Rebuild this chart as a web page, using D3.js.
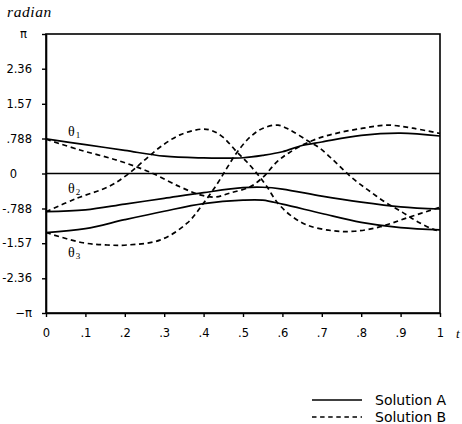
<!DOCTYPE html>
<html>
<head>
<meta charset="utf-8">
<script src="https://cdn.jsdelivr.net/npm/d3@7"></script>
<style>
  html, body { margin: 0; padding: 0; background: #fff; }
  svg { display: block; }
</style>
</head>
<body>
<script>
// ---- data ----
const xTicks = [0, 0.1, 0.2, 0.3, 0.4, 0.5, 0.6, 0.7, 0.8, 0.9, 1];
const xTickLabels = ["0", ".1", ".2", ".3", ".4", ".5", ".6", ".7", ".8", ".9", "1"];
const yTicks = [-Math.PI, -2.36, -1.57, -0.788, 0, 0.788, 1.57, 2.36, Math.PI];
const yTickLabels = ["\u2212\u03c0", "-2.36", "-1.57", "-.788", "0", ".788", "1.57", "2.36", "\u03c0"];

// Solution A (solid) : [t, radian]
const solA_theta1 = [[0,0.78],[0.1,0.65],[0.2,0.52],[0.3,0.39],[0.4,0.35],[0.45,0.345],[0.5,0.355],
  [0.55,0.41],[0.6,0.49],[0.65,0.63],[0.7,0.71],[0.8,0.86],[0.9,0.91],[1,0.845]];
const solA_theta2 = [[0,-0.86],[0.1,-0.82],[0.2,-0.69],[0.3,-0.56],[0.4,-0.43],[0.5,-0.32],[0.55,-0.31],
  [0.6,-0.35],[0.7,-0.51],[0.8,-0.645],[0.9,-0.75],[1,-0.80]];
const solA_theta3 = [[0,-1.33],[0.1,-1.24],[0.2,-1.04],[0.3,-0.85],[0.4,-0.68],[0.5,-0.60],[0.55,-0.60],
  [0.6,-0.69],[0.7,-0.90],[0.8,-1.10],[0.9,-1.22],[1,-1.27]];

// Solution B (dashed) : [t, radian]
const solB_theta1 = [[0,0.77],[0.086,0.53],[0.18,0.30],[0.264,0.03],[0.34,-0.30],[0.391,-0.48],[0.429,-0.53],
  [0.467,-0.44],[0.518,-0.30],[0.551,-0.08],[0.586,0.26],[0.619,0.48],[0.678,0.75],[0.739,0.91],
  [0.805,1.02],[0.865,1.09],[0.931,1.02],[1,0.90]];
const solB_theta2 = [[0,-0.86],[0.075,-0.57],[0.16,-0.29],[0.206,-0.03],[0.25,0.30],[0.289,0.59],[0.34,0.87],
  [0.396,1.0],[0.42,0.97],[0.449,0.82],[0.485,0.48],[0.51,0.26],[0.538,-0.03],[0.561,-0.30],[0.586,-0.64],
  [0.619,-0.93],[0.662,-1.16],[0.728,-1.29],[0.784,-1.30],[0.848,-1.20],[0.916,-1.0],[1,-0.76]];
const solB_theta3 = [[0,-1.33],[0.094,-1.56],[0.155,-1.61],[0.206,-1.61],[0.289,-1.50],[0.358,-1.12],[0.398,-0.69],
  [0.434,-0.24],[0.459,0.12],[0.485,0.48],[0.518,0.82],[0.551,1.02],[0.589,1.09],[0.619,0.98],[0.662,0.75],
  [0.695,0.57],[0.734,0.26],[0.777,-0.10],[0.817,-0.37],[0.860,-0.64],[0.904,-0.87],[0.944,-1.09],
  [0.987,-1.27],[1,-1.29]];

const curveLabels = [
  {main: "\u03b8", sub: "1", t: 0.056, v: 0.84},
  {main: "\u03b8", sub: "2", t: 0.056, v: -0.44},
  {main: "\u03b8", sub: "3", t: 0.056, v: -1.88}
];
const legendNames = ["Solution A", "Solution B"];

// ---- drawing ----
const W = 462, H = 424;
const svg = d3.select("body").append("svg").attr("width", W).attr("height", H);

const x = d3.scaleLinear().domain([0, 1]).range([46, 440]);
const y = d3.scaleLinear().domain([-Math.PI, Math.PI]).range([313, 34]);

const sansFont = "'DejaVu Sans', sans-serif";
const serifFont = "'Liberation Serif', 'DejaVu Serif', serif";

// frame
svg.append("rect")
  .attr("x", x(0)).attr("y", y(Math.PI))
  .attr("width", x(1) - x(0)).attr("height", y(-Math.PI) - y(Math.PI))
  .attr("fill", "none").attr("stroke", "#000").attr("stroke-width", 1.6);

// zero line
svg.append("line")
  .attr("x1", x(0)).attr("x2", x(1)).attr("y1", y(0)).attr("y2", y(0))
  .attr("stroke", "#000").attr("stroke-width", 1.4);

// y axis
const labelShift = {"0": -15, "\u03c0": -5};
const yAxis = svg.append("g").attr("transform", `translate(${x(0)},0)`)
  .call(d3.axisLeft(y).tickValues(yTicks).tickFormat((d, i) => yTickLabels[i])
    .tickSize(4).tickSizeOuter(0).tickPadding(10));
yAxis.select(".domain").attr("stroke-width", 1.6);
yAxis.selectAll(".tick line").attr("stroke-width", 1.4);
yAxis.selectAll(".tick text")
  .attr("font-family", sansFont).attr("font-size", 11.5).attr("fill", "#000")
  .attr("dx", (d, i) => labelShift[yTickLabels[i]] || 0);

// x axis
const xAxis = svg.append("g").attr("transform", `translate(0,${y(-Math.PI)})`)
  .call(d3.axisBottom(x).tickValues(xTicks).tickFormat((d, i) => xTickLabels[i])
    .tickSize(4).tickSizeOuter(0).tickPadding(12));
xAxis.select(".domain").attr("stroke-width", 1.6);
xAxis.selectAll(".tick line").attr("stroke-width", 1.4);
xAxis.selectAll(".tick text")
  .attr("font-family", sansFont).attr("font-size", 11.5).attr("fill", "#000");

// axis titles
svg.append("text").attr("x", 7).attr("y", 17)
  .attr("font-family", serifFont).attr("font-style", "italic").attr("font-size", 15.5)
  .attr("letter-spacing", 0.6).text("radian");
svg.append("text").attr("x", 456).attr("y", 338)
  .attr("font-family", serifFont).attr("font-style", "italic").attr("font-size", 13)
  .text("t");

// curves
const line = d3.line().x(d => x(d[0])).y(d => y(d[1])).curve(d3.curveCatmullRom.alpha(0.5));
const solidSeries = [solA_theta1, solA_theta2, solA_theta3];
const dashedSeries = [solB_theta1, solB_theta2, solB_theta3];
const dashPattern = "5,3.6";

svg.append("g").selectAll("path").data(solidSeries).join("path")
  .attr("d", line).attr("fill", "none").attr("stroke", "#000").attr("stroke-width", 1.7);
svg.append("g").selectAll("path").data(dashedSeries).join("path")
  .attr("d", line).attr("fill", "none").attr("stroke", "#000").attr("stroke-width", 1.7)
  .attr("stroke-dasharray", dashPattern);

// theta labels
const lbl = svg.append("g").selectAll("text").data(curveLabels).join("text")
  .attr("x", d => x(d.t)).attr("y", d => y(d.v))
  .attr("font-family", serifFont).attr("font-size", 14).attr("fill", "#000");
lbl.append("tspan").text(d => d.main);
lbl.append("tspan").attr("font-size", 9).attr("dx", 1).attr("dy", 2).text(d => d.sub);

// legend
const leg = svg.append("g").selectAll("g").data(legendNames).join("g")
  .attr("transform", (d, i) => `translate(312,${400 + i * 17})`);
leg.append("line").attr("x1", 0).attr("x2", 50).attr("y1", 0).attr("y2", 0)
  .attr("stroke", "#000").attr("stroke-width", 1.5)
  .attr("stroke-dasharray", (d, i) => i === 0 ? null : "4.5,3.6");
leg.append("text").attr("x", 63).attr("y", 4.5)
  .attr("font-family", sansFont).attr("font-size", 14).attr("fill", "#000")
  .text(d => d);
</script>
</body>
</html>
